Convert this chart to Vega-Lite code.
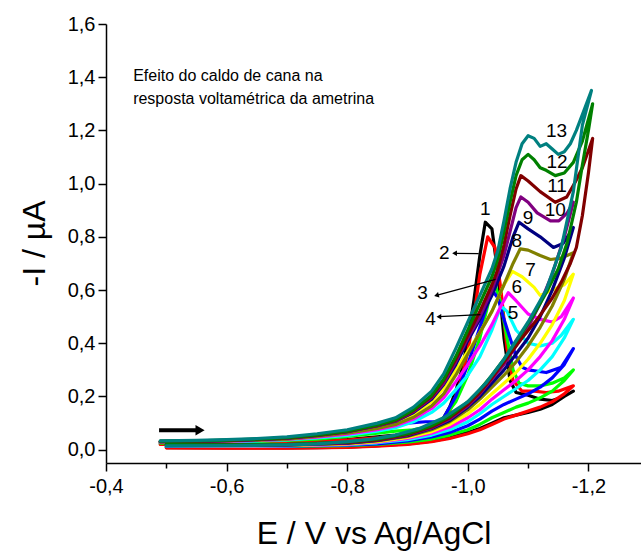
{
"$schema": "https://vega.github.io/schema/vega-lite/v6.json",
"width": 535, "height": 439,
"autosize": {"type": "none"},
"padding": {"left": 106, "top": 24, "right": 0, "bottom": 89},
"background": "white",
"config": {"view": {"stroke": null}, "font": "Liberation Sans"},
"datasets": {
"cv": [
{"c":1,"E":-0.49,"I":0.022},{"c":1,"E":-0.55,"I":0.022},{"c":1,"E":-0.6,"I":0.024},{"c":1,"E":-0.65,"I":0.026},{"c":1,"E":-0.7,"I":0.028},{"c":1,"E":-0.75,"I":0.032},{"c":1,"E":-0.8,"I":0.038},{"c":1,"E":-0.85,"I":0.048},{"c":1,"E":-0.88,"I":0.055},{"c":1,"E":-0.91,"I":0.065},{"c":1,"E":-0.94,"I":0.085},{"c":1,"E":-0.96,"I":0.12},{"c":1,"E":-0.97,"I":0.16},{"c":1,"E":-0.98,"I":0.22},{"c":1,"E":-0.99,"I":0.3},{"c":1,"E":-1.0,"I":0.41},{"c":1,"E":-1.01,"I":0.56},{"c":1,"E":-1.02,"I":0.73},{"c":1,"E":-1.029,"I":0.855},{"c":1,"E":-1.04,"I":0.83},{"c":1,"E":-1.05,"I":0.66},{"c":1,"E":-1.06,"I":0.42},{"c":1,"E":-1.07,"I":0.26},{"c":1,"E":-1.08,"I":0.215},{"c":1,"E":-1.1,"I":0.205},{"c":1,"E":-1.12,"I":0.19},{"c":1,"E":-1.14,"I":0.185},{"c":1,"E":-1.16,"I":0.2},{"c":1,"E":-1.175,"I":0.22},
{"c":1,"E":-1.16,"I":0.2},{"c":1,"E":-1.14,"I":0.17},{"c":1,"E":-1.12,"I":0.152},{"c":1,"E":-1.1,"I":0.14},{"c":1,"E":-1.08,"I":0.13},{"c":1,"E":-1.06,"I":0.12},{"c":1,"E":-1.04,"I":0.1},{"c":1,"E":-1.02,"I":0.08},{"c":1,"E":-1.0,"I":0.065},{"c":1,"E":-0.97,"I":0.045},{"c":1,"E":-0.94,"I":0.032},{"c":1,"E":-0.9,"I":0.022},{"c":1,"E":-0.85,"I":0.015},{"c":1,"E":-0.8,"I":0.01},{"c":1,"E":-0.75,"I":0.008},{"c":1,"E":-0.7,"I":0.007},{"c":1,"E":-0.6,"I":0.007},{"c":1,"E":-0.5,"I":0.008},
{"c":2,"E":-0.49,"I":0.02},{"c":2,"E":-0.55,"I":0.02},{"c":2,"E":-0.6,"I":0.022},{"c":2,"E":-0.65,"I":0.024},{"c":2,"E":-0.7,"I":0.026},{"c":2,"E":-0.75,"I":0.03},{"c":2,"E":-0.8,"I":0.036},{"c":2,"E":-0.85,"I":0.045},{"c":2,"E":-0.88,"I":0.052},{"c":2,"E":-0.91,"I":0.062},{"c":2,"E":-0.94,"I":0.08},{"c":2,"E":-0.96,"I":0.11},{"c":2,"E":-0.97,"I":0.145},{"c":2,"E":-0.98,"I":0.2},{"c":2,"E":-0.99,"I":0.27},{"c":2,"E":-1.0,"I":0.37},{"c":2,"E":-1.01,"I":0.5},{"c":2,"E":-1.02,"I":0.66},{"c":2,"E":-1.033,"I":0.8},{"c":2,"E":-1.045,"I":0.76},{"c":2,"E":-1.055,"I":0.6},{"c":2,"E":-1.065,"I":0.38},{"c":2,"E":-1.075,"I":0.26},{"c":2,"E":-1.09,"I":0.22},{"c":2,"E":-1.11,"I":0.22},{"c":2,"E":-1.13,"I":0.215},{"c":2,"E":-1.15,"I":0.22},{"c":2,"E":-1.175,"I":0.24},
{"c":2,"E":-1.16,"I":0.21},{"c":2,"E":-1.14,"I":0.18},{"c":2,"E":-1.12,"I":0.16},{"c":2,"E":-1.1,"I":0.145},{"c":2,"E":-1.08,"I":0.13},{"c":2,"E":-1.06,"I":0.115},{"c":2,"E":-1.04,"I":0.095},{"c":2,"E":-1.02,"I":0.075},{"c":2,"E":-1.0,"I":0.06},{"c":2,"E":-0.97,"I":0.042},{"c":2,"E":-0.94,"I":0.03},{"c":2,"E":-0.9,"I":0.02},{"c":2,"E":-0.85,"I":0.013},{"c":2,"E":-0.8,"I":0.009},{"c":2,"E":-0.7,"I":0.006},{"c":2,"E":-0.6,"I":0.006},{"c":2,"E":-0.5,"I":0.007},
{"c":3,"E":-0.49,"I":0.025},{"c":3,"E":-0.55,"I":0.026},{"c":3,"E":-0.6,"I":0.028},{"c":3,"E":-0.65,"I":0.031},{"c":3,"E":-0.7,"I":0.035},{"c":3,"E":-0.75,"I":0.04},{"c":3,"E":-0.8,"I":0.05},{"c":3,"E":-0.85,"I":0.062},{"c":3,"E":-0.88,"I":0.07},{"c":3,"E":-0.91,"I":0.075},{"c":3,"E":-0.94,"I":0.09},{"c":3,"E":-0.96,"I":0.12},{"c":3,"E":-0.98,"I":0.18},{"c":3,"E":-1.0,"I":0.28},{"c":3,"E":-1.02,"I":0.42},{"c":3,"E":-1.035,"I":0.56},{"c":3,"E":-1.045,"I":0.62},{"c":3,"E":-1.055,"I":0.55},{"c":3,"E":-1.065,"I":0.42},{"c":3,"E":-1.075,"I":0.3},{"c":3,"E":-1.085,"I":0.25},{"c":3,"E":-1.1,"I":0.24},{"c":3,"E":-1.12,"I":0.24},{"c":3,"E":-1.14,"I":0.25},{"c":3,"E":-1.16,"I":0.27},{"c":3,"E":-1.175,"I":0.3},
{"c":3,"E":-1.16,"I":0.26},{"c":3,"E":-1.14,"I":0.22},{"c":3,"E":-1.12,"I":0.195},{"c":3,"E":-1.1,"I":0.175},{"c":3,"E":-1.08,"I":0.16},{"c":3,"E":-1.06,"I":0.14},{"c":3,"E":-1.04,"I":0.12},{"c":3,"E":-1.02,"I":0.095},{"c":3,"E":-1.0,"I":0.075},{"c":3,"E":-0.97,"I":0.055},{"c":3,"E":-0.94,"I":0.04},{"c":3,"E":-0.9,"I":0.028},{"c":3,"E":-0.85,"I":0.02},{"c":3,"E":-0.8,"I":0.015},{"c":3,"E":-0.7,"I":0.012},{"c":3,"E":-0.6,"I":0.012},{"c":3,"E":-0.5,"I":0.013},
{"c":4,"E":-0.49,"I":0.028},{"c":4,"E":-0.55,"I":0.029},{"c":4,"E":-0.6,"I":0.03},{"c":4,"E":-0.65,"I":0.034},{"c":4,"E":-0.7,"I":0.04},{"c":4,"E":-0.75,"I":0.048},{"c":4,"E":-0.8,"I":0.06},{"c":4,"E":-0.85,"I":0.075},{"c":4,"E":-0.88,"I":0.092},{"c":4,"E":-0.9,"I":0.1},{"c":4,"E":-0.93,"I":0.105},{"c":4,"E":-0.95,"I":0.105},{"c":4,"E":-0.96,"I":0.12},{"c":4,"E":-0.98,"I":0.2},{"c":4,"E":-1.0,"I":0.32},{"c":4,"E":-1.02,"I":0.46},{"c":4,"E":-1.04,"I":0.6},{"c":4,"E":-1.05,"I":0.57},{"c":4,"E":-1.06,"I":0.49},{"c":4,"E":-1.07,"I":0.42},{"c":4,"E":-1.08,"I":0.35},{"c":4,"E":-1.09,"I":0.31},{"c":4,"E":-1.1,"I":0.3},{"c":4,"E":-1.13,"I":0.29},{"c":4,"E":-1.155,"I":0.31},{"c":4,"E":-1.175,"I":0.38},
{"c":4,"E":-1.16,"I":0.32},{"c":4,"E":-1.14,"I":0.27},{"c":4,"E":-1.12,"I":0.235},{"c":4,"E":-1.1,"I":0.21},{"c":4,"E":-1.08,"I":0.19},{"c":4,"E":-1.06,"I":0.17},{"c":4,"E":-1.04,"I":0.145},{"c":4,"E":-1.02,"I":0.115},{"c":4,"E":-1.0,"I":0.09},{"c":4,"E":-0.97,"I":0.065},{"c":4,"E":-0.94,"I":0.048},{"c":4,"E":-0.9,"I":0.033},{"c":4,"E":-0.85,"I":0.022},{"c":4,"E":-0.8,"I":0.017},{"c":4,"E":-0.7,"I":0.013},{"c":4,"E":-0.6,"I":0.012},{"c":4,"E":-0.5,"I":0.013},
{"c":5,"E":-0.49,"I":0.027},{"c":5,"E":-0.55,"I":0.028},{"c":5,"E":-0.6,"I":0.03},{"c":5,"E":-0.65,"I":0.033},{"c":5,"E":-0.7,"I":0.037},{"c":5,"E":-0.75,"I":0.044},{"c":5,"E":-0.8,"I":0.054},{"c":5,"E":-0.85,"I":0.07},{"c":5,"E":-0.88,"I":0.083},{"c":5,"E":-0.91,"I":0.105},{"c":5,"E":-0.94,"I":0.14},{"c":5,"E":-0.96,"I":0.175},{"c":5,"E":-0.98,"I":0.225},{"c":5,"E":-1.0,"I":0.28},{"c":5,"E":-1.02,"I":0.35},{"c":5,"E":-1.04,"I":0.45},{"c":5,"E":-1.055,"I":0.54},{"c":5,"E":-1.065,"I":0.52},{"c":5,"E":-1.08,"I":0.45},{"c":5,"E":-1.1,"I":0.4},{"c":5,"E":-1.12,"I":0.39},{"c":5,"E":-1.14,"I":0.4},{"c":5,"E":-1.155,"I":0.43},{"c":5,"E":-1.175,"I":0.49},
{"c":5,"E":-1.16,"I":0.42},{"c":5,"E":-1.14,"I":0.35},{"c":5,"E":-1.12,"I":0.3},{"c":5,"E":-1.1,"I":0.26},{"c":5,"E":-1.08,"I":0.23},{"c":5,"E":-1.06,"I":0.2},{"c":5,"E":-1.04,"I":0.17},{"c":5,"E":-1.02,"I":0.135},{"c":5,"E":-1.0,"I":0.105},{"c":5,"E":-0.97,"I":0.075},{"c":5,"E":-0.94,"I":0.055},{"c":5,"E":-0.9,"I":0.038},{"c":5,"E":-0.85,"I":0.026},{"c":5,"E":-0.8,"I":0.019},{"c":5,"E":-0.7,"I":0.014},{"c":5,"E":-0.6,"I":0.013},{"c":5,"E":-0.5,"I":0.014},
{"c":6,"E":-0.49,"I":0.028},{"c":6,"E":-0.55,"I":0.029},{"c":6,"E":-0.6,"I":0.031},{"c":6,"E":-0.65,"I":0.035},{"c":6,"E":-0.7,"I":0.039},{"c":6,"E":-0.75,"I":0.047},{"c":6,"E":-0.8,"I":0.058},{"c":6,"E":-0.85,"I":0.075},{"c":6,"E":-0.88,"I":0.09},{"c":6,"E":-0.91,"I":0.115},{"c":6,"E":-0.94,"I":0.155},{"c":6,"E":-0.96,"I":0.195},{"c":6,"E":-0.98,"I":0.255},{"c":6,"E":-1.0,"I":0.32},{"c":6,"E":-1.02,"I":0.39},{"c":6,"E":-1.04,"I":0.47},{"c":6,"E":-1.055,"I":0.54},{"c":6,"E":-1.067,"I":0.59},{"c":6,"E":-1.08,"I":0.56},{"c":6,"E":-1.1,"I":0.51},{"c":6,"E":-1.12,"I":0.49},{"c":6,"E":-1.14,"I":0.48},{"c":6,"E":-1.155,"I":0.5},{"c":6,"E":-1.175,"I":0.57},
{"c":6,"E":-1.16,"I":0.49},{"c":6,"E":-1.14,"I":0.41},{"c":6,"E":-1.12,"I":0.35},{"c":6,"E":-1.1,"I":0.3},{"c":6,"E":-1.08,"I":0.26},{"c":6,"E":-1.06,"I":0.225},{"c":6,"E":-1.04,"I":0.19},{"c":6,"E":-1.02,"I":0.15},{"c":6,"E":-1.0,"I":0.12},{"c":6,"E":-0.97,"I":0.085},{"c":6,"E":-0.94,"I":0.062},{"c":6,"E":-0.9,"I":0.042},{"c":6,"E":-0.85,"I":0.028},{"c":6,"E":-0.8,"I":0.02},{"c":6,"E":-0.7,"I":0.015},{"c":6,"E":-0.6,"I":0.014},{"c":6,"E":-0.5,"I":0.015},
{"c":7,"E":-0.49,"I":0.03},{"c":7,"E":-0.55,"I":0.031},{"c":7,"E":-0.6,"I":0.034},{"c":7,"E":-0.65,"I":0.037},{"c":7,"E":-0.7,"I":0.042},{"c":7,"E":-0.75,"I":0.052},{"c":7,"E":-0.8,"I":0.065},{"c":7,"E":-0.85,"I":0.085},{"c":7,"E":-0.88,"I":0.102},{"c":7,"E":-0.91,"I":0.132},{"c":7,"E":-0.94,"I":0.18},{"c":7,"E":-0.96,"I":0.23},{"c":7,"E":-0.98,"I":0.3},{"c":7,"E":-1.0,"I":0.37},{"c":7,"E":-1.02,"I":0.44},{"c":7,"E":-1.04,"I":0.52},{"c":7,"E":-1.06,"I":0.62},{"c":7,"E":-1.074,"I":0.67},{"c":7,"E":-1.09,"I":0.65},{"c":7,"E":-1.11,"I":0.61},{"c":7,"E":-1.12,"I":0.58},{"c":7,"E":-1.14,"I":0.6},{"c":7,"E":-1.16,"I":0.62},{"c":7,"E":-1.175,"I":0.66},
{"c":7,"E":-1.16,"I":0.56},{"c":7,"E":-1.14,"I":0.47},{"c":7,"E":-1.12,"I":0.4},{"c":7,"E":-1.1,"I":0.34},{"c":7,"E":-1.08,"I":0.29},{"c":7,"E":-1.06,"I":0.25},{"c":7,"E":-1.04,"I":0.21},{"c":7,"E":-1.02,"I":0.17},{"c":7,"E":-1.0,"I":0.135},{"c":7,"E":-0.97,"I":0.095},{"c":7,"E":-0.94,"I":0.068},{"c":7,"E":-0.9,"I":0.046},{"c":7,"E":-0.85,"I":0.03},{"c":7,"E":-0.8,"I":0.022},{"c":7,"E":-0.7,"I":0.016},{"c":7,"E":-0.6,"I":0.015},{"c":7,"E":-0.5,"I":0.016},
{"c":8,"E":-0.49,"I":0.029},{"c":8,"E":-0.55,"I":0.03},{"c":8,"E":-0.6,"I":0.033},{"c":8,"E":-0.65,"I":0.036},{"c":8,"E":-0.7,"I":0.04},{"c":8,"E":-0.75,"I":0.05},{"c":8,"E":-0.8,"I":0.062},{"c":8,"E":-0.85,"I":0.08},{"c":8,"E":-0.88,"I":0.095},{"c":8,"E":-0.91,"I":0.122},{"c":8,"E":-0.94,"I":0.165},{"c":8,"E":-0.96,"I":0.21},{"c":8,"E":-0.98,"I":0.28},{"c":8,"E":-1.0,"I":0.36},{"c":8,"E":-1.02,"I":0.44},{"c":8,"E":-1.04,"I":0.52},{"c":8,"E":-1.06,"I":0.62},{"c":8,"E":-1.075,"I":0.7},{"c":8,"E":-1.087,"I":0.755},{"c":8,"E":-1.1,"I":0.75},{"c":8,"E":-1.12,"I":0.73},{"c":8,"E":-1.137,"I":0.715},{"c":8,"E":-1.155,"I":0.72},{"c":8,"E":-1.175,"I":0.74},
{"c":8,"E":-1.16,"I":0.64},{"c":8,"E":-1.14,"I":0.54},{"c":8,"E":-1.12,"I":0.46},{"c":8,"E":-1.1,"I":0.39},{"c":8,"E":-1.08,"I":0.33},{"c":8,"E":-1.06,"I":0.28},{"c":8,"E":-1.04,"I":0.235},{"c":8,"E":-1.02,"I":0.19},{"c":8,"E":-1.0,"I":0.15},{"c":8,"E":-0.97,"I":0.105},{"c":8,"E":-0.94,"I":0.075},{"c":8,"E":-0.9,"I":0.05},{"c":8,"E":-0.85,"I":0.033},{"c":8,"E":-0.8,"I":0.024},{"c":8,"E":-0.7,"I":0.017},{"c":8,"E":-0.6,"I":0.016},{"c":8,"E":-0.5,"I":0.017},
{"c":9,"E":-0.49,"I":0.03},{"c":9,"E":-0.55,"I":0.031},{"c":9,"E":-0.6,"I":0.034},{"c":9,"E":-0.65,"I":0.038},{"c":9,"E":-0.7,"I":0.043},{"c":9,"E":-0.75,"I":0.054},{"c":9,"E":-0.8,"I":0.068},{"c":9,"E":-0.85,"I":0.09},{"c":9,"E":-0.88,"I":0.107},{"c":9,"E":-0.91,"I":0.14},{"c":9,"E":-0.94,"I":0.19},{"c":9,"E":-0.96,"I":0.245},{"c":9,"E":-0.98,"I":0.32},{"c":9,"E":-1.0,"I":0.41},{"c":9,"E":-1.02,"I":0.49},{"c":9,"E":-1.04,"I":0.58},{"c":9,"E":-1.06,"I":0.69},{"c":9,"E":-1.075,"I":0.8},{"c":9,"E":-1.085,"I":0.855},{"c":9,"E":-1.1,"I":0.83},{"c":9,"E":-1.12,"I":0.8},{"c":9,"E":-1.142,"I":0.76},{"c":9,"E":-1.158,"I":0.775},{"c":9,"E":-1.175,"I":0.835},
{"c":9,"E":-1.16,"I":0.72},{"c":9,"E":-1.14,"I":0.6},{"c":9,"E":-1.12,"I":0.5},{"c":9,"E":-1.1,"I":0.42},{"c":9,"E":-1.08,"I":0.36},{"c":9,"E":-1.06,"I":0.3},{"c":9,"E":-1.04,"I":0.25},{"c":9,"E":-1.02,"I":0.2},{"c":9,"E":-1.0,"I":0.16},{"c":9,"E":-0.97,"I":0.11},{"c":9,"E":-0.94,"I":0.08},{"c":9,"E":-0.9,"I":0.053},{"c":9,"E":-0.85,"I":0.035},{"c":9,"E":-0.8,"I":0.025},{"c":9,"E":-0.7,"I":0.018},{"c":9,"E":-0.6,"I":0.017},{"c":9,"E":-0.5,"I":0.018},
{"c":10,"E":-0.49,"I":0.03},{"c":10,"E":-0.55,"I":0.031},{"c":10,"E":-0.6,"I":0.034},{"c":10,"E":-0.65,"I":0.038},{"c":10,"E":-0.7,"I":0.043},{"c":10,"E":-0.75,"I":0.054},{"c":10,"E":-0.8,"I":0.068},{"c":10,"E":-0.85,"I":0.09},{"c":10,"E":-0.88,"I":0.108},{"c":10,"E":-0.91,"I":0.143},{"c":10,"E":-0.94,"I":0.195},{"c":10,"E":-0.96,"I":0.25},{"c":10,"E":-0.98,"I":0.33},{"c":10,"E":-1.0,"I":0.42},{"c":10,"E":-1.02,"I":0.5},{"c":10,"E":-1.04,"I":0.6},{"c":10,"E":-1.06,"I":0.73},{"c":10,"E":-1.07,"I":0.82},{"c":10,"E":-1.08,"I":0.91},{"c":10,"E":-1.088,"I":0.95},{"c":10,"E":-1.1,"I":0.93},{"c":10,"E":-1.115,"I":0.89},{"c":10,"E":-1.137,"I":0.86},{"c":10,"E":-1.151,"I":0.86},{"c":10,"E":-1.165,"I":0.89},{"c":10,"E":-1.175,"I":0.93},
{"c":10,"E":-1.16,"I":0.8},{"c":10,"E":-1.14,"I":0.66},{"c":10,"E":-1.12,"I":0.55},{"c":10,"E":-1.1,"I":0.46},{"c":10,"E":-1.08,"I":0.39},{"c":10,"E":-1.06,"I":0.32},{"c":10,"E":-1.04,"I":0.265},{"c":10,"E":-1.02,"I":0.21},{"c":10,"E":-1.0,"I":0.165},{"c":10,"E":-0.97,"I":0.115},{"c":10,"E":-0.94,"I":0.082},{"c":10,"E":-0.9,"I":0.055},{"c":10,"E":-0.85,"I":0.036},{"c":10,"E":-0.8,"I":0.026},{"c":10,"E":-0.7,"I":0.018},{"c":10,"E":-0.6,"I":0.017},{"c":10,"E":-0.5,"I":0.018},
{"c":11,"E":-0.49,"I":0.031},{"c":11,"E":-0.55,"I":0.032},{"c":11,"E":-0.6,"I":0.035},{"c":11,"E":-0.65,"I":0.039},{"c":11,"E":-0.7,"I":0.044},{"c":11,"E":-0.75,"I":0.055},{"c":11,"E":-0.8,"I":0.069},{"c":11,"E":-0.85,"I":0.092},{"c":11,"E":-0.88,"I":0.11},{"c":11,"E":-0.91,"I":0.147},{"c":11,"E":-0.94,"I":0.2},{"c":11,"E":-0.96,"I":0.26},{"c":11,"E":-0.98,"I":0.34},{"c":11,"E":-1.0,"I":0.43},{"c":11,"E":-1.02,"I":0.52},{"c":11,"E":-1.04,"I":0.62},{"c":11,"E":-1.05,"I":0.68},{"c":11,"E":-1.06,"I":0.77},{"c":11,"E":-1.07,"I":0.88},{"c":11,"E":-1.08,"I":0.98},{"c":11,"E":-1.088,"I":1.03},{"c":11,"E":-1.1,"I":1.01},{"c":11,"E":-1.12,"I":0.97},{"c":11,"E":-1.145,"I":0.93},{"c":11,"E":-1.164,"I":0.95},{"c":11,"E":-1.178,"I":1.005},{"c":11,"E":-1.19,"I":1.06},{"c":11,"E":-1.207,"I":1.17},
{"c":11,"E":-1.2,"I":1.04},{"c":11,"E":-1.19,"I":0.88},{"c":11,"E":-1.18,"I":0.76},{"c":11,"E":-1.17,"I":0.7},{"c":11,"E":-1.155,"I":0.63},{"c":11,"E":-1.14,"I":0.57},{"c":11,"E":-1.115,"I":0.49},{"c":11,"E":-1.09,"I":0.42},{"c":11,"E":-1.06,"I":0.33},{"c":11,"E":-1.04,"I":0.27},{"c":11,"E":-1.02,"I":0.215},{"c":11,"E":-1.0,"I":0.17},{"c":11,"E":-0.97,"I":0.12},{"c":11,"E":-0.94,"I":0.085},{"c":11,"E":-0.9,"I":0.057},{"c":11,"E":-0.85,"I":0.037},{"c":11,"E":-0.8,"I":0.027},{"c":11,"E":-0.7,"I":0.019},{"c":11,"E":-0.6,"I":0.017},{"c":11,"E":-0.5,"I":0.018},
{"c":12,"E":-0.49,"I":0.032},{"c":12,"E":-0.55,"I":0.033},{"c":12,"E":-0.6,"I":0.036},{"c":12,"E":-0.65,"I":0.04},{"c":12,"E":-0.7,"I":0.045},{"c":12,"E":-0.75,"I":0.056},{"c":12,"E":-0.8,"I":0.07},{"c":12,"E":-0.85,"I":0.093},{"c":12,"E":-0.88,"I":0.112},{"c":12,"E":-0.91,"I":0.15},{"c":12,"E":-0.94,"I":0.205},{"c":12,"E":-0.96,"I":0.265},{"c":12,"E":-0.98,"I":0.35},{"c":12,"E":-1.0,"I":0.45},{"c":12,"E":-1.02,"I":0.55},{"c":12,"E":-1.04,"I":0.65},{"c":12,"E":-1.05,"I":0.72},{"c":12,"E":-1.06,"I":0.82},{"c":12,"E":-1.07,"I":0.93},{"c":12,"E":-1.08,"I":1.03},{"c":12,"E":-1.09,"I":1.09},{"c":12,"E":-1.1,"I":1.11},{"c":12,"E":-1.11,"I":1.09},{"c":12,"E":-1.12,"I":1.06},{"c":12,"E":-1.13,"I":1.05},{"c":12,"E":-1.145,"I":1.03},{"c":12,"E":-1.16,"I":1.04},{"c":12,"E":-1.175,"I":1.08},{"c":12,"E":-1.19,"I":1.16},{"c":12,"E":-1.207,"I":1.3},
{"c":12,"E":-1.2,"I":1.2},{"c":12,"E":-1.19,"I":1.07},{"c":12,"E":-1.18,"I":0.93},{"c":12,"E":-1.165,"I":0.78},{"c":12,"E":-1.15,"I":0.68},{"c":12,"E":-1.13,"I":0.59},{"c":12,"E":-1.11,"I":0.51},{"c":12,"E":-1.09,"I":0.44},{"c":12,"E":-1.06,"I":0.34},{"c":12,"E":-1.04,"I":0.28},{"c":12,"E":-1.02,"I":0.225},{"c":12,"E":-1.0,"I":0.18},{"c":12,"E":-0.97,"I":0.125},{"c":12,"E":-0.94,"I":0.09},{"c":12,"E":-0.9,"I":0.06},{"c":12,"E":-0.85,"I":0.04},{"c":12,"E":-0.8,"I":0.029},{"c":12,"E":-0.7,"I":0.02},{"c":12,"E":-0.6,"I":0.018},{"c":12,"E":-0.5,"I":0.019},
{"c":13,"E":-0.49,"I":0.033},{"c":13,"E":-0.55,"I":0.035},{"c":13,"E":-0.6,"I":0.038},{"c":13,"E":-0.65,"I":0.042},{"c":13,"E":-0.7,"I":0.048},{"c":13,"E":-0.75,"I":0.06},{"c":13,"E":-0.8,"I":0.075},{"c":13,"E":-0.85,"I":0.1},{"c":13,"E":-0.88,"I":0.12},{"c":13,"E":-0.91,"I":0.16},{"c":13,"E":-0.94,"I":0.22},{"c":13,"E":-0.96,"I":0.285},{"c":13,"E":-0.98,"I":0.38},{"c":13,"E":-1.0,"I":0.48},{"c":13,"E":-1.02,"I":0.58},{"c":13,"E":-1.04,"I":0.68},{"c":13,"E":-1.05,"I":0.75},{"c":13,"E":-1.06,"I":0.86},{"c":13,"E":-1.07,"I":0.98},{"c":13,"E":-1.08,"I":1.08},{"c":13,"E":-1.09,"I":1.15},{"c":13,"E":-1.1,"I":1.18},{"c":13,"E":-1.11,"I":1.17},{"c":13,"E":-1.12,"I":1.14},{"c":13,"E":-1.13,"I":1.15},{"c":13,"E":-1.14,"I":1.13},{"c":13,"E":-1.15,"I":1.11},{"c":13,"E":-1.16,"I":1.12},{"c":13,"E":-1.17,"I":1.15},{"c":13,"E":-1.18,"I":1.2},{"c":13,"E":-1.19,"I":1.26},{"c":13,"E":-1.205,"I":1.35},
{"c":13,"E":-1.19,"I":1.22},{"c":13,"E":-1.175,"I":0.97},{"c":13,"E":-1.155,"I":0.76},{"c":13,"E":-1.13,"I":0.6},{"c":13,"E":-1.1,"I":0.48},{"c":13,"E":-1.06,"I":0.34},{"c":13,"E":-1.03,"I":0.25},{"c":13,"E":-1.0,"I":0.18},{"c":13,"E":-0.96,"I":0.12},{"c":13,"E":-0.92,"I":0.08},{"c":13,"E":-0.88,"I":0.055},{"c":13,"E":-0.84,"I":0.04},{"c":13,"E":-0.8,"I":0.03},{"c":13,"E":-0.75,"I":0.022},{"c":13,"E":-0.7,"I":0.018},{"c":13,"E":-0.6,"I":0.015},{"c":13,"E":-0.5,"I":0.014}
],
"labels": [
{"t":"1","E":-1.029,"I":0.906},{"t":"2","E":-0.961,"I":0.74},{"t":"3","E":-0.925,"I":0.588},{"t":"4","E":-0.938,"I":0.49},{"t":"5","E":-1.075,"I":0.513},{"t":"6","E":-1.081,"I":0.61},{"t":"7","E":-1.104,"I":0.675},{"t":"8","E":-1.081,"I":0.786},{"t":"9","E":-1.1,"I":0.87},{"t":"10","E":-1.145,"I":0.9},{"t":"11","E":-1.148,"I":0.99},{"t":"12","E":-1.148,"I":1.08},{"t":"13","E":-1.147,"I":1.196}
],
"arrows": [
{"id":"a2","E1":-1.018,"I1":0.737,"E2":-0.978,"I2":0.738},
{"id":"a3","E1":-1.046,"I1":0.64,"E2":-0.948,"I2":0.58},
{"id":"a4","E1":-1.021,"I1":0.508,"E2":-0.952,"I2":0.5},
{"id":"scan","E1":-0.488,"I1":0.0727,"E2":-0.556,"I2":0.0727}
],
"notes": [
{"t":"Efeito do caldo de cana na","E":-0.445,"I":1.385},
{"t":"resposta voltamétrica da ametrina","E":-0.445,"I":1.298}
]
},
"layer": [
{
"data": {"name": "cv"},
"mark": {"type": "line", "strokeWidth": 3.2, "strokeJoin": "round", "strokeCap": "round"},
"encoding": {
"x": {"field": "E", "type": "quantitative",
"scale": {"domain": [-0.4, -1.2872], "nice": false, "zero": false},
"axis": {
"values": [-0.4,-0.5,-0.6,-0.7,-0.8,-0.9,-1.0,-1.1,-1.2],
"labelExpr": "abs(round(datum.value*10)) % 2 == 0 ? '-' + replace(format(abs(datum.value), '.1f'), '.', ',') : ''",
"tickSize": {"condition": {"test": "abs(round(datum.value*10)) % 2 == 0", "value": 8}, "value": 5},
"grid": false, "domainColor": "black", "domainWidth": 1.5, "tickColor": "black", "tickWidth": 1.5,
"labelFontSize": 20, "labelColor": "black", "labelPadding": 5, "labelFlush": false, "labelOverlap": false,
"title": "E / V vs Ag/AgCl", "titleFontSize": 32, "titleFontWeight": "normal", "titleColor": "black",
"titleBaseline": "alphabetic", "titleY": 80
}},
"y": {"field": "I", "type": "quantitative",
"scale": {"domain": [-0.05, 1.6], "nice": false, "zero": false},
"axis": {
"values": [0,0.1,0.2,0.3,0.4,0.5,0.6,0.7,0.8,0.9,1.0,1.1,1.2,1.3,1.4,1.5,1.6],
"labelExpr": "abs(round(datum.value*10)) % 2 == 0 ? replace(format(abs(datum.value), '.1f'), '.', ',') : ''",
"tickSize": {"condition": {"test": "abs(round(datum.value*10)) % 2 == 0", "value": 8}, "value": 5},
"grid": false, "domainColor": "black", "domainWidth": 1.5, "tickColor": "black", "tickWidth": 1.5,
"labelFontSize": 20, "labelColor": "black", "labelPadding": 3, "labelOverlap": false,
"title": "-I / µA", "titleFontSize": 32, "titleFontWeight": "normal", "titleColor": "black",
"titleBaseline": "alphabetic", "titleAlign": "center", "titleX": -62, "titleY": 219
}},
"color": {"field": "c", "type": "nominal", "legend": null,
"scale": {"domain": [1,2,3,4,5,6,7,8,9,10,11,12,13],
"range": ["#000000","#ff0000","#00ff00","#0000ff","#00ffff","#ff00ff","#ffff00","#808000","#000080","#800080","#800000","#008000","#008080"]}},
"order": {"value": null}
}
},
{
"mark": {"type": "rule", "color": "black", "strokeWidth": 1.5},
"encoding": {"y": {"datum": 1.6}}
},
{
"data": {"name": "labels"},
"mark": {"type": "text", "fontSize": 19, "color": "black", "align": "center", "baseline": "middle"},
"encoding": {"x": {"field": "E", "type": "quantitative"}, "y": {"field": "I", "type": "quantitative"}, "text": {"field": "t"}}
},
{
"data": {"name": "arrows"},
"transform": [{"filter": "datum.id != 'scan'"}],
"mark": {"type": "rule", "color": "black", "strokeWidth": 1.2},
"encoding": {"x": {"field": "E1", "type": "quantitative"}, "y": {"field": "I1", "type": "quantitative"}, "x2": {"field": "E2"}, "y2": {"field": "I2"}}
},
{
"data": {"name": "arrows"},
"transform": [{"filter": "datum.id == 'a2' || datum.id == 'a4'"}],
"mark": {"type": "point", "shape": "triangle-left", "filled": true, "color": "black", "size": 30, "opacity": 1},
"encoding": {"x": {"field": "E2", "type": "quantitative"}, "y": {"field": "I2", "type": "quantitative"}}
},
{
"data": {"name": "arrows"},
"transform": [{"filter": "datum.id == 'a3'"}],
"mark": {"type": "point", "shape": "triangle-left", "filled": true, "color": "black", "size": 30, "opacity": 1, "angle": 345},
"encoding": {"x": {"field": "E2", "type": "quantitative"}, "y": {"field": "I2", "type": "quantitative"}}
},
{
"data": {"name": "arrows"},
"transform": [{"filter": "datum.id == 'scan'"}],
"mark": {"type": "rule", "color": "black", "strokeWidth": 4},
"encoding": {"x": {"field": "E1", "type": "quantitative"}, "y": {"field": "I1", "type": "quantitative"}, "x2": {"field": "E2"}, "y2": {"field": "I2"}}
},
{
"data": {"name": "arrows"},
"transform": [{"filter": "datum.id == 'scan'"}],
"mark": {"type": "point", "shape": "triangle-right", "filled": true, "color": "black", "size": 110, "opacity": 1},
"encoding": {"x": {"field": "E2", "type": "quantitative"}, "y": {"field": "I2", "type": "quantitative"}}
},
{
"data": {"name": "notes"},
"mark": {"type": "text", "fontSize": 16, "color": "black", "align": "left", "baseline": "alphabetic"},
"encoding": {"x": {"field": "E", "type": "quantitative"}, "y": {"field": "I", "type": "quantitative"}, "text": {"field": "t"}}
},
{
"mark": {"type": "text", "fontSize": 22, "color": "black", "align": "center", "baseline": "alphabetic"},
"encoding": {"x": {"datum": -1.224}, "y": {"datum": 1.464}, "text": {"value": "B"}}
}
]
}
